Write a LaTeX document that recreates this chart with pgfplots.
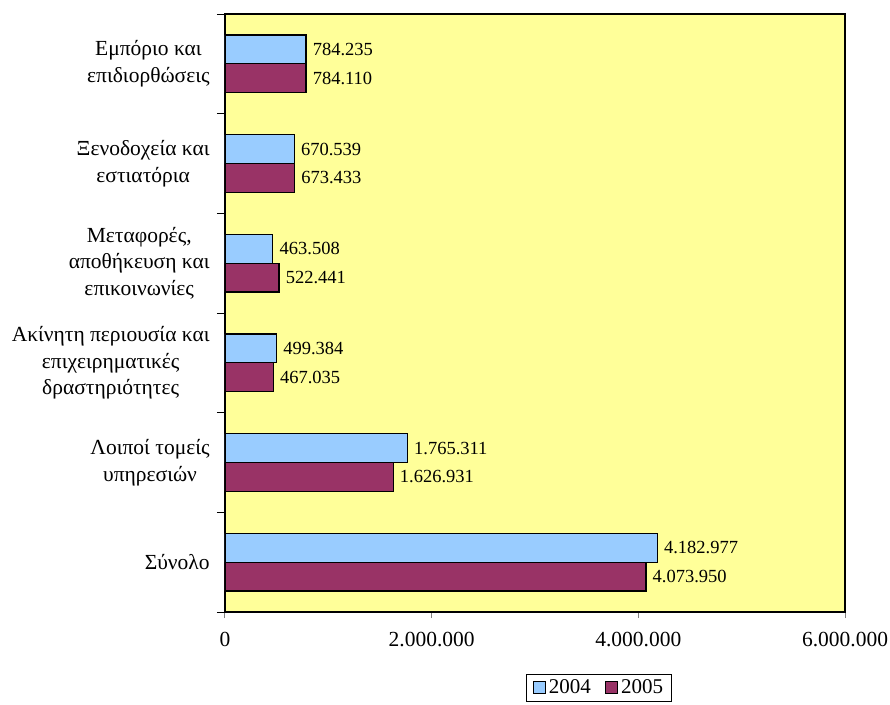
\documentclass[border=0pt]{standalone}
\usepackage{pgfplots}
\pgfplotsset{compat=1.18}
\usepackage{fontspec}
\setmainfont{Liberation Serif}
\definecolor{bgyellow}{HTML}{FFFF99}
\definecolor{cblue}{HTML}{99CCFF}
\definecolor{cred}{HTML}{993366}
\newcommand\ff{\fontsize{18.5}{25}\selectfont}
\newcommand\fl{\fontsize{21.5}{26.5}\selectfont}
\newcommand\fg{\fontsize{21}{24}\selectfont}
\begin{document}
\ff
\begin{tikzpicture}
\begin{axis}[
  at={(0,0)}, anchor=south west,
  scale only axis, width=620pt, height=598pt,
  xbar, bar width=0.29,
  xmin=0, xmax=6000000,
  ymin=-0.5, ymax=5.5, y dir=reverse,
  axis background/.style={fill=bgyellow},
  axis line style={black, line width=1.2pt},
  tick pos=left,
  ytick={0,1,2,3,4,5},
  yticklabels={{Εμπόριο και\\επιδιορθώσεις},{Ξενοδοχεία και\\εστιατόρια},{Μεταφορές,\\αποθήκευση και\\επικοινωνίες},{Ακίνητη περιουσία και\\επιχειρηματικές\\δραστηριότητες},{Λοιποί τομείς\\υπηρεσιών},{Σύνολο}},
  yticklabel style={align=center, font=\fl, xshift=-3pt},
  minor ytick={-0.5,0.5,1.5,2.5,3.5,4.5,5.5},
  tick align=outside,
  major tick length=6pt,
  minor tick length=8pt,
  major y tick style={draw=none},
  minor y tick style={black, line width=1pt},
  major x tick style={gray, line width=1pt},
  xtick={0,2000000,4000000,6000000},
  scaled x ticks=false,
  xticklabel={\pgfmathprintnumber[fixed,precision=0,1000 sep={.},assume math mode=true]{\tick}},
  xticklabel style={font=\fl, yshift=-8pt},
  nodes near coords={\pgfmathprintnumber[fixed,precision=0,1000 sep={.},assume math mode=true]{\pgfplotspointmeta}},
  every node near coord/.append style={font=\ff, anchor=west, black},
  legend columns=2,
  legend style={at={(axis description cs:0.603,0)}, anchor=north, yshift=-62pt, draw=black, line width=0.8pt, font=\fg,
    inner xsep=6pt, inner ysep=3pt,
    /tikz/every odd column/.append style={column sep=1pt},
    /tikz/every even column/.append style={column sep=12pt}},
  mylegend/.style={legend image code/.code={\draw[##1,draw=black,line width=1.2pt] (0pt,-6pt) rectangle (12pt,6pt);}},
]
\addplot[fill=cblue, draw=black, line width=1.2pt, bar shift=-0.145, mylegend] coordinates {
  (784235,0) (670539,1) (463508,2) (499384,3) (1765311,4) (4182977,5)};
\addplot[fill=cred, draw=black, line width=1.2pt, bar shift=0.145, mylegend] coordinates {
  (784110,0) (673433,1) (522441,2) (467035,3) (1626931,4) (4073950,5)};
\legend{2004,2005}
\end{axis}
\pgfresetboundingbox
\useasboundingbox (-225pt,-92pt) rectangle (665pt,612pt);
\end{tikzpicture}
\end{document}
